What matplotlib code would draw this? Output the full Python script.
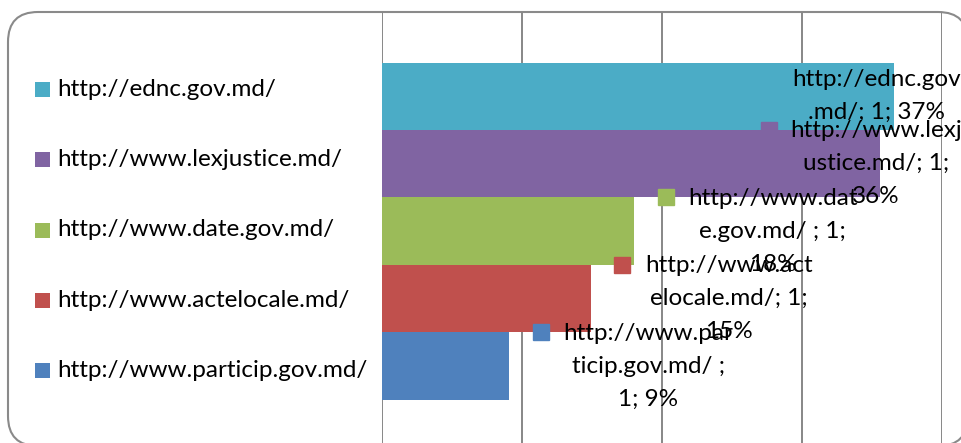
import numpy as np
import matplotlib
matplotlib.use('Agg')
import matplotlib.pyplot as plt
from matplotlib.patches import FancyBboxPatch, Rectangle
from matplotlib.transforms import IdentityTransform, ScaledTranslation

plt.rcParams['font.family'] = ['Lato', 'DejaVu Sans']

# data (bottom to top)
sites = ['http://www.particip.gov.md/', 'http://www.actelocale.md/', 'http://www.date.gov.md/',
         'http://www.lexjustice.md/', 'http://ednc.gov.md/']
shares = [0.091, 0.149, 0.18, 0.356, 0.366]
counts = [1, 1, 1, 1, 1]
pct_labels = ['9%', '15%', '18%', '36%', '37%']
# excel-style wrapped data labels
label_lines = [['http://www.par', 'ticip.gov.md/ ;', '1; 9%'],
               ['http://www.act', 'elocale.md/; 1;', '15%'],
               ['http://www.dat', 'e.gov.md/ ; 1;', '18%'],
               ['http://www.lexj', 'ustice.md/; 1;', '36%'],
               ['http://ednc.gov', '.md/; 1; 37%']]
colors = ['#4F81BD', '#C0504D', '#9BBB59', '#8064A2', '#4BACC6']

W, H = 961, 443
FS = 17.5
fig = plt.figure(figsize=(W / 100, H / 100), dpi=100)

# rounded chart frame
frame = FancyBboxPatch((8, -3), 960, 434, boxstyle='round,pad=0,rounding_size=30',
                       transform=IdentityTransform(), facecolor='white',
                       edgecolor='#8a8a8a', linewidth=1.5, zorder=-5)
fig.patches.append(frame)

ax = fig.add_axes([382 / W, 0, 560 / W, 431 / H])
ax.patch.set_alpha(0)
y = np.arange(len(sites))
ax.barh(y, shares, height=1.0, color=colors, zorder=2)
ax.set_xlim(0, 0.4)
ax.set_ylim(-1.14, 5.25)
ax.set_xticks(np.arange(0, 0.41, 0.1))
ax.set_yticks([])
ax.tick_params(axis='x', length=0, labelbottom=False)
ax.grid(axis='x', color='#878787', linewidth=1.4, zorder=1)
for s in ax.spines.values():
    s.set_visible(False)

# data labels with colour keys
for i in range(len(sites)):
    lx = min(shares[i] + 0.099, 0.353)
    lines = label_lines[i]
    ax.annotate('\n'.join(lines), (lx, y[i]), ha='center', va='center',
                multialignment='center', fontsize=FS, linespacing=1.7,
                color='black', zorder=4, annotation_clip=False)
    first_off = (len(lines) - 1) / 2 * 33
    ax.plot([lx], [y[i]], marker='s', markersize=11, color=colors[i], linestyle='none',
            transform=ax.transData + ScaledTranslation(-107 / 100, (first_off + 1) / 100,
                                                       fig.dpi_scale_trans),
            zorder=3, clip_on=False)

# legend on the left
for i in range(len(sites)):
    yc = H - (370.5 - 70.25 * i)
    fig.patches.append(Rectangle((35, yc - 7.5), 15, 15, transform=IdentityTransform(),
                                 facecolor=colors[i], edgecolor='none'))
    fig.text(57 / W, yc / H, sites[i], ha='left', va='center', fontsize=FS, color='black')

fig.savefig('out.png', dpi=100)
